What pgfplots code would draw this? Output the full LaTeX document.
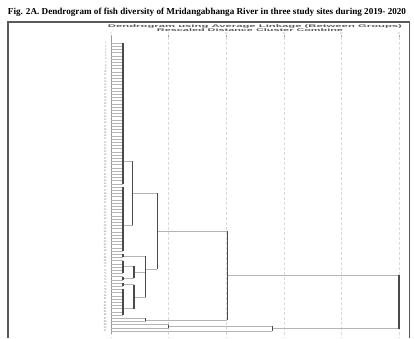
\documentclass[border=0pt]{standalone}
\usepackage{pgfplots}
\pgfplotsset{compat=1.18}
\usepackage{fontspec}
\setmainfont{Liberation Serif}
\setsansfont{Liberation Sans}
\definecolor{hline}{HTML}{B4B4B4}
\definecolor{vline}{HTML}{4A4A4A}
\definecolor{frame}{HTML}{5A5A5A}
\begin{document}
\begin{tikzpicture}[x=1pt,y=-1pt]
\useasboundingbox (0,0) rectangle (414,338);
\node[anchor=center,inner sep=0pt] at (207,12.7) {\resizebox{398pt}{!}{\bfseries Fig. 2A. Dendrogram of fish diversity of Mridangabhanga River in three study sites during 2019- 2020}};
\draw[frame, line width=1.8pt] (7.8,338) -- (7.8,21.6) -- (409.5,21.6) -- (409.5,338);
\node[anchor=center,inner sep=0pt,text=black!65] at (255,26.3) {\resizebox{294pt}{2.8pt}{\sffamily\bfseries Dendrogram using Average Linkage (Between Groups)}};
\node[anchor=center,inner sep=0pt,text=black!65] at (250,30.6) {\resizebox{186pt}{2.8pt}{\sffamily\bfseries Rescaled Distance Cluster Combine}};
\begin{axis}[at={(111pt,-37pt)}, anchor=north west,
  scale only axis, width=288pt, height=301pt,
  xmin=0, xmax=25, ymin=-0.875, ymax=93.19, y dir=reverse,
  axis line style={draw=none},
  xtick={0,5,...,25}, xtick pos=right, xticklabel pos=right,
  xticklabel style={font=\fontsize{2.6}{2.6}\selectfont, text=gray, anchor=south, inner sep=0pt, yshift=0.6pt},
  /pgf/number format/assume math mode=true,
  major tick length=2pt, tick align=outside, tick style={gray!70, line width=0.4pt},
  xmajorgrids, grid style={densely dashed, gray!30, line width=0.4pt},
  ytick={1,...,91}, ytick style={draw=none},
  yticklabel style={font=\fontsize{2.7}{2.7}\selectfont, text=black!55, xshift=1pt},
  yticklabels={1,2,3,4,5,6,7,8,9,10,11,12,13,14,15,16,17,18,19,20,21,22,23,24,25,26,27,28,29,30,31,32,33,34,35,36,37,38,39,40,41,42,43,44,45,46,47,48,49,50,51,52,53,54,55,56,57,58,59,60,61,62,63,64,65,66,67,68,69,70,71,72,73,74,75,76,77,78,79,80,81,82,83,84,85,86,87,88,89,90,91},
  clip=false, unbounded coords=jump]
% baseline at distance 0
\addplot[gray!80, line width=0.6pt] coordinates {(0,-0.875) (0,92)};
% leaf lines
\addplot[xcomb, hline, line width=0.55pt, mark=none] coordinates {
(1.04,1)(1.04,2)(1.04,3)(1.04,4)(1.04,5)(1.04,6)(1.04,7)(1.04,8)(1.04,9)(1.04,10)
(1.04,11)(1.04,12)(1.04,13)(1.04,14)(1.04,15)(1.04,16)(1.04,17)(1.04,18)(1.04,19)(1.04,20)
(1.04,21)(1.04,22)(1.04,23)(1.04,24)(1.04,25)(1.04,26)(1.04,27)(1.04,28)(1.04,29)(1.04,30)
(1.04,31)(1.04,32)(1.04,33)(1.04,34)(1.04,35)(1.04,36)(1.04,37)(1.04,38)(1.04,39)(1.04,40)
(1.04,41)(1.04,42)(1.04,43)(1.04,44)(1.04,45)(1.04,46)(1.04,47)(1.04,48)(1.04,49)(1.04,50)
(1.04,51)(1.04,52)(1.04,53)(1.04,54)(1.04,55)(1.04,56)(1.04,57)(1.04,58)(1.04,59)(1.04,60)
(1.04,61)(1.04,62)(1.04,63)(1.04,64)(1.04,65)(1.04,66)(1.04,67)(1.04,68)(1.04,69)(1.04,70)
(1.04,71)(1.04,72)(1.04,73)(1.04,74)(1.04,75)(1.04,76)(1.04,77)(1.04,78)(1.04,79)(1.04,80)
(1.04,81)(1.04,82)(1.04,83)(1.04,84)(1.04,85)(1.04,86)(3.0,87)(3.0,88)(5.03,89)(5.03,90)
(14.0,91)};
% horizontal connectors
\addplot[hline, line width=0.55pt] coordinates {
(1.04,38)(1.9,38)(nan,nan)
(1.04,58)(1.9,58)(nan,nan)
(1.9,48)(4.0,48)(nan,nan)
(1.04,67.5)(3.0,67.5)(nan,nan)
(1.04,70.7)(2.0,70.7)(nan,nan)
(1.04,74.5)(2.0,74.5)(nan,nan)
(2.0,72.6)(3.0,72.6)(nan,nan)
(1.04,76.5)(2.0,76.5)(nan,nan)
(1.04,84)(2.0,84)(nan,nan)
(2.0,80.4)(3.0,80.4)(nan,nan)
(3.0,71.6)(4.0,71.6)(nan,nan)
(4.0,59.8)(10.1,59.8)(nan,nan)
(3.0,87.5)(10.1,87.5)(nan,nan)
(10.1,73.65)(25,73.65)(nan,nan)
(5.03,89.5)(14.0,89.5)(nan,nan)
(14.0,90.25)(25,90.25)};
% vertical joins
\addplot[vline, line width=1.1pt] coordinates {
(1.04,1)(1.04,45)(nan,nan)
(1.04,46)(1.04,66)(nan,nan)
(1.04,67)(1.04,68)(nan,nan)
(1.04,69)(1.04,73)(nan,nan)
(1.04,74)(1.04,75)(nan,nan)
(1.04,76)(1.04,77)(nan,nan)
(1.04,78)(1.04,86)(nan,nan)
(1.9,38)(1.9,58)(nan,nan)
(2.0,70.7)(2.0,74.5)(nan,nan)
(2.0,76.5)(2.0,84)(nan,nan)
(3.0,67.5)(3.0,80.4)(nan,nan)
(4.0,48)(4.0,71.6)(nan,nan)
(3.0,87)(3.0,88)(nan,nan)
(5.03,89)(5.03,90)(nan,nan)
(10.1,59.8)(10.1,87.5)(nan,nan)
(14.0,89.5)(14.0,91)(nan,nan)
(25,73.65)(25,90.25)};
\end{axis}
\end{tikzpicture}
\end{document}
